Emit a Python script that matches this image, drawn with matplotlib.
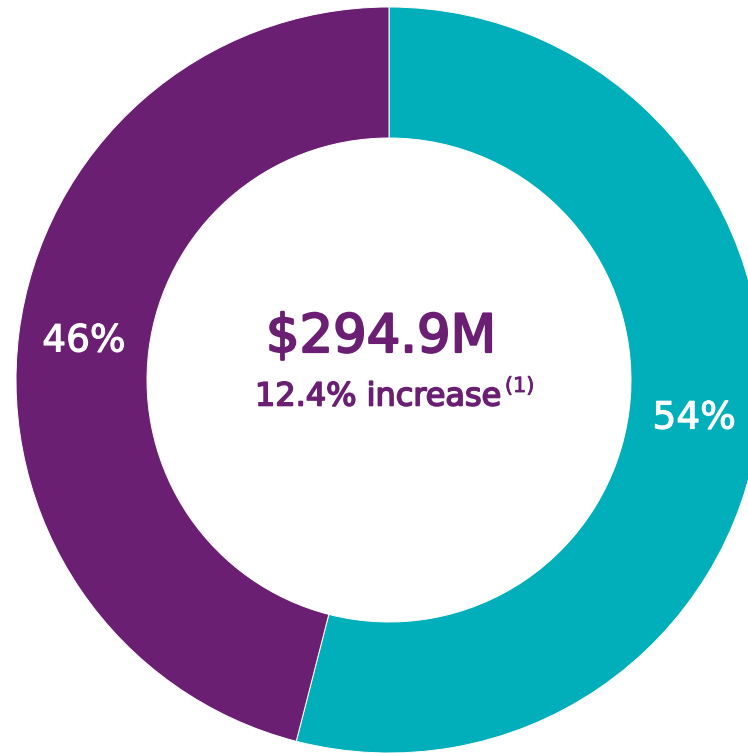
import matplotlib.pyplot as plt
import matplotlib.patheffects as pe

# data
shares = [54, 46]
seg_colors = ['#00AFB9', '#6B1F73']
total_label = '$294.9M'
change_label = '12.4% increase'
note_mark = '(1)'

purple = '#6B1F73'
W, H = 748, 753

fig = plt.figure(figsize=(W / 100, H / 100), dpi=100)
ax = fig.add_axes([0, 0, 1, 1])

outer_r = 373
ring_w = 131
cx, cy = 389, H - 380

wedges, texts, pcts = ax.pie(
    shares, colors=seg_colors, startangle=90, counterclock=False,
    radius=outer_r, center=(cx, cy), frame=True,
    wedgeprops=dict(width=ring_w, edgecolor='white', linewidth=0.7),
    autopct='%d%%', pctdistance=(outer_r - ring_w / 2) / outer_r,
    textprops=dict(color='white', fontsize=27, family='DejaVu Sans'))
for p in pcts:
    p.set_path_effects([pe.withStroke(linewidth=0.8, foreground='white')])
ax.set_xlim(0, W)
ax.set_ylim(0, H)
ax.set_aspect('equal')
ax.axis('off')

thick = [pe.withStroke(linewidth=1.6, foreground=purple)]
ax.text(cx - 8, H - 337, total_label.replace('$', r'\$'), ha='center', va='center',
        color=purple, fontsize=38, family='DejaVu Sans', path_effects=thick)
t = ax.text(255, H - 397, change_label, ha='left', va='center',
            color=purple, fontsize=23, family='DejaVu Sans',
            path_effects=[pe.withStroke(linewidth=1.2, foreground=purple)])

# superscript note right after the change text
fig.canvas.draw()
bb = t.get_window_extent().transformed(ax.transData.inverted())
ax.text(bb.x1 + 3, H - 386, note_mark, ha='left', va='center',
        color=purple, fontsize=15, family='DejaVu Sans',
        path_effects=[pe.withStroke(linewidth=0.6, foreground=purple)])

fig.savefig('out.png', dpi=100)
